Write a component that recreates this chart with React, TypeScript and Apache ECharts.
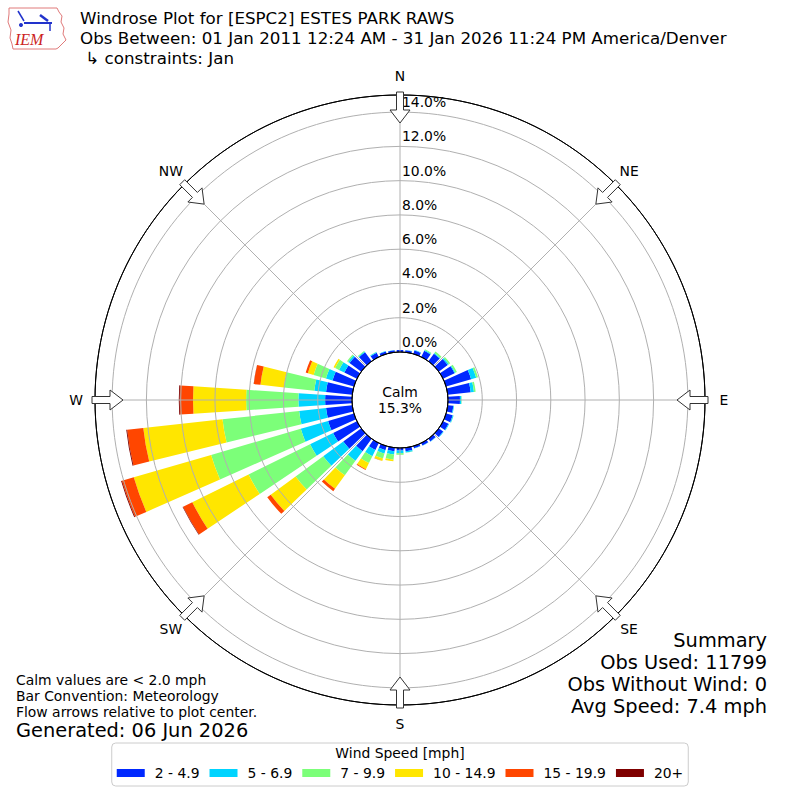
import React, { useEffect, useRef } from 'react';
import * as echarts from 'echarts';

const FONT = 'DejaVu Sans';

const DIRECTIONS = [
  '0', '10', '20', '30', '40', '50', '60', '70', '80', '90', '100', '110',
  '120', '130', '140', '150', '160', '170', '180', '190', '200', '210', '220', '230',
  '240', '250', '260', '270', '280', '290', '300', '310', '320', '330', '340', '350',
];

const SPEED_BINS = ['2 - 4.9', '5 - 6.9', '7 - 9.9', '10 - 14.9', '15 - 19.9', '20+'];
const BIN_COLORS = ['#0028ff', '#00d4ff', '#7cff79', '#ffe600', '#ff4600', '#7f0000'];

// percent of observations per direction (0..350 by 10)
const BIN_2_5 = [
  0.12, 0.12, 0.2, 0.4, 0.55, 0.65, 0.75, 1.52, 1.35, 0.7, 0.33, 0.4,
  0.35, 0.32, 0.2, 0.16, 0.13, 0.2, 0.15, 0.2, 0.25, 0.45, 0.9, 1.3,
  1.55, 1.57, 1.54, 1.57, 1.54, 1.3, 0.82, 0.85, 0.65, 0.28, 0.15, 0.12,
];
const BIN_5_7 = [
  0, 0.02, 0.03, 0.05, 0.05, 0.08, 0.05, 0.31, 0.19, 0.08, 0.04, 0.05,
  0.04, 0.03, 0.02, 0.02, 0.02, 0.08, 0.15, 0.2, 0.2, 0.4, 0.7, 1.45,
  1.5, 1.66, 1.58, 1.56, 0.69, 0.4, 0.35, 0.1, 0.05, 0.04, 0.02, 0.01,
];
const BIN_7_10 = [
  0, 0, 0, 0.05, 0.1, 0.1, 0.1, 0.11, 0.1, 0.02, 0, 0.01,
  0, 0, 0, 0, 0, 0.02, 0.1, 0.3, 0.3, 0.45, 1.05, 2.0,
  4.0, 5.45, 4.5, 3.05, 1.78, 0.75, 0.25, 0.08, 0.05, 0.01, 0, 0,
];
const BIN_10_15 = [
  0, 0, 0, 0, 0, 0, 0, 0, 0, 0, 0, 0,
  0, 0, 0, 0, 0, 0, 0, 0.1, 0.15, 0.4, 0.97, 1.8,
  3.66, 4.7, 4.65, 3.1, 1.38, 0.35, 0.1, 0, 0, 0, 0, 0,
];
const BIN_15_20 = [
  0, 0, 0, 0, 0, 0, 0, 0, 0, 0, 0, 0,
  0, 0, 0, 0, 0, 0, 0, 0, 0.01, 0.05, 0.17, 0.25,
  0.6, 0.72, 0.95, 0.78, 0.39, 0.13, 0, 0, 0, 0, 0, 0,
];
const BIN_20_UP = [
  0, 0, 0, 0, 0, 0, 0, 0, 0, 0, 0, 0,
  0, 0, 0, 0, 0, 0, 0, 0, 0, 0, 0, 0,
  0.03, 0.05, 0.05, 0.05, 0.01, 0, 0, 0, 0, 0, 0, 0,
];
const SERIES = [BIN_2_5, BIN_5_7, BIN_7_10, BIN_10_15, BIN_15_20, BIN_20_UP];

const CALM_PCT = '15.3%';
const COMPASS = ['N', 'NE', 'E', 'SE', 'S', 'SW', 'W', 'NW'];
const TITLE_LINES = [
  'Windrose Plot for [ESPC2] ESTES PARK RAWS',
  'Obs Between: 01 Jan 2011 12:24 AM - 31 Jan 2026 11:24 PM America/Denver',
  ' \u21b3 constraints: Jan',
];
const NOTES = [
  'Calm values are < 2.0 mph',
  'Bar Convention: Meteorology',
  'Flow arrows relative to plot center.',
];
const GENERATED = 'Generated: 06 Jun 2026';
const SUMMARY = ['Summary', 'Obs Used: 11799', 'Obs Without Wind: 0', 'Avg Speed: 7.4 mph'];

const CX = 400;
const CY = 400;
const R0 = 48;
const R1 = 305;

function txt(text: string, x: number, y: number, size: number, align = 'left', extra: any = {}) {
  return {
    type: 'text',
    x,
    y,
    z: 100,
    silent: true,
    style: {
      text,
      fill: '#000',
      fontSize: size,
      fontFamily: FONT,
      lineHeight: size,
      align,
      textAlign: align,
      verticalAlign: 'middle',
      textVerticalAlign: 'middle',
      ...extra,
    },
  };
}

function arrow(deg: number) {
  const t = (deg * Math.PI) / 180;
  const s = Math.sin(t);
  const c = Math.cos(t);
  const local = [
    [308, -3.5], [290, -3.5], [290, -10], [277, 0], [290, 10], [290, 3.5], [308, 3.5],
  ];
  const pts = local.map(([u, v]) => [CX + u * s + v * c, CY - u * c + v * s]);
  return {
    type: 'polygon',
    z: 101,
    silent: true,
    shape: { points: pts },
    style: { fill: '#fff', stroke: '#333', lineWidth: 1 },
  };
}

function buildOption() {
  const graphics: any[] = [];
  // logo
  graphics.push({
    type: 'polygon',
    z: 100,
    silent: true,
    shape: {
      points: [
        [9, 8], [57, 8], [59, 12], [62, 16], [61, 22], [64, 28], [63, 34], [66, 40],
        [62, 44], [58, 48], [56, 49], [13, 49], [12, 44], [10, 38], [11, 30], [8, 22], [9, 14],
      ],
    },
    style: { fill: 'none', stroke: '#e07a7a', lineWidth: 1 },
  });
  graphics.push({ type: 'line', z: 100, silent: true, shape: { x1: 24, y1: 23, x2: 52, y2: 23 }, style: { stroke: '#2233cc', lineWidth: 2 } });
  graphics.push({ type: 'line', z: 100, silent: true, shape: { x1: 18, y1: 11, x2: 24, y2: 21 }, style: { stroke: '#2233cc', lineWidth: 1.5 } });
  graphics.push({ type: 'line', z: 100, silent: true, shape: { x1: 40, y1: 15, x2: 48, y2: 21 }, style: { stroke: '#2233cc', lineWidth: 2.5 } });
  graphics.push({ type: 'line', z: 100, silent: true, shape: { x1: 50, y1: 23, x2: 50, y2: 31 }, style: { stroke: '#2233cc', lineWidth: 1.5 } });
  graphics.push({ type: 'circle', z: 100, silent: true, shape: { cx: 21, cy: 25, r: 2 }, style: { fill: '#2233cc' } });
  graphics.push(txt('IEM', 15, 39, 16, 'left', { fill: '#cc2222', fontFamily: 'Liberation Serif', fontStyle: 'italic' }));

  // title lines
  graphics.push(txt(TITLE_LINES[0], 80, 18.4, 16.7));
  graphics.push(txt(TITLE_LINES[1], 80, 38, 16.7));
  graphics.push(txt(TITLE_LINES[2], 80, 57.6, 16.7));

  // compass labels and arrows
  COMPASS.forEach((lab, i) => {
    const t = (i * 45 * Math.PI) / 180;
    graphics.push(txt(lab, CX + 324 * Math.sin(t), CY - 324 * Math.cos(t), 13.9, 'center'));
    graphics.push(arrow(i * 45));
  });

  // calm
  graphics.push(txt('Calm', CX, 392, 13.9, 'center'));
  graphics.push(txt(CALM_PCT, CX, 408, 13.9, 'center'));

  // notes
  graphics.push(txt(NOTES[0], 16, 680, 13.9));
  graphics.push(txt(NOTES[1], 16, 696, 13.9));
  graphics.push(txt(NOTES[2], 16, 712, 13.9));
  graphics.push(txt(GENERATED, 16, 730, 19.4));

  // summary
  SUMMARY.forEach((s, i) => graphics.push(txt(s, 767, 640 + i * 22, 19.4, 'right')));

  // legend title
  graphics.push(txt('Wind Speed [mph]', CX, 753, 13.9, 'center'));

  const splitColors = ['#000000', '#b0b0b0', '#b0b0b0', '#b0b0b0', '#b0b0b0', '#b0b0b0', '#b0b0b0', '#b0b0b0', '#000000'];

  return {
    animation: false,
    backgroundColor: '#ffffff',
    textStyle: { fontFamily: FONT },
    polar: [
      { center: [CX, CY], radius: [R0, R1] },
      { center: [CX, CY], radius: [R0, R1] },
    ],
    angleAxis: [
      {
        polarIndex: 0,
        type: 'category',
        data: DIRECTIONS,
        startAngle: 95,
        clockwise: true,
        boundaryGap: true,
        axisLine: { show: false },
        axisTick: { show: false },
        axisLabel: { show: false },
        splitLine: { show: false },
      },
      {
        polarIndex: 1,
        type: 'value',
        min: 0,
        max: 360,
        interval: 45,
        startAngle: 90,
        clockwise: true,
        z: 5,
        axisLine: { show: true, lineStyle: { color: '#000', width: 1 } },
        axisTick: { show: false },
        axisLabel: { show: false },
        splitLine: { show: true, lineStyle: { color: '#b0b0b0', width: 1 } },
      },
    ],
    radiusAxis: [
      { polarIndex: 0, type: 'value', min: 0, max: 15, show: false },
      {
        polarIndex: 1,
        type: 'value',
        min: 0,
        max: 15,
        interval: 2,
        z: 5,
        axisLine: { show: false },
        axisTick: { show: false },
        axisLabel: {
          show: true,
          margin: -2,
          align: 'left',
          verticalAlign: 'bottom',
          padding: [0, 0, 3, 0],
          fontSize: 13.9,
          fontFamily: FONT,
          color: '#000',
          formatter: (v: number) => (v > 14.5 ? '' : v.toFixed(1) + '%'),
        },
        splitLine: { show: true, lineStyle: { color: splitColors, width: 1 } },
      },
    ],
    legend: {
      data: SPEED_BINS,
      top: 743,
      left: 'center',
      orient: 'horizontal',
      icon: 'rect',
      itemWidth: 28,
      itemHeight: 8,
      itemGap: 10,
      padding: [23, 5, 6, 5],
      borderColor: '#cccccc',
      borderWidth: 1,
      borderRadius: 4,
      selectedMode: false,
      textStyle: { fontSize: 13.9, fontFamily: FONT, color: '#000', padding: [0, 0, 0, 5] },
    },
    series: SPEED_BINS.map((name, i) => ({
      type: 'bar',
      name,
      coordinateSystem: 'polar',
      polarIndex: 0,
      stack: 'wind',
      data: SERIES[i],
      barCategoryGap: '24%',
      itemStyle: { color: BIN_COLORS[i] },
      silent: true,
      z: 2,
    })),
    graphic: graphics,
  };
}

export default function App() {
  const ref = useRef<HTMLDivElement>(null);
  useEffect(() => {
    document.body.style.margin = '0';
    const chart = echarts.init(ref.current as HTMLDivElement, null, { renderer: 'svg' });
    chart.setOption(buildOption() as any);
    return () => {
      chart.dispose();
    };
  }, []);
  return <div ref={ref} style={{ width: 800, height: 800 }} />;
}
